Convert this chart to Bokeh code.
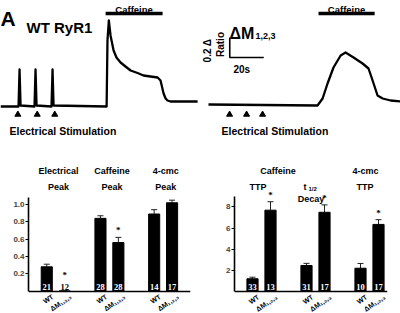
import math
from bokeh.plotting import figure
from bokeh.models import Label, LabelSet, Whisker, TeeHead, ColumnDataSource, FixedTicker, Range1d, NumeralTickFormatter
from bokeh.layouts import column, row
from bokeh.embed import file_html
from bokeh.resources import INLINE

FONT = "Liberation Sans"

# ---------------- Panel A: traces (time in s, delta ratio) ----------------
wt_time = [0, 10.6, 11.2, 11.8, 20.0, 20.6, 21.2, 30.0, 30.6, 31.2, 62.4, 62.9, 63.7, 64.7,
           66.5, 68.2, 70.6, 73.5, 76.5, 80.6, 84.1, 88.2, 92.4, 94.1, 95.9, 97.1, 98.2, 100.0, 115.9]
wt_ratio = [0, 0, 0.37, 0.01, 0, 0.37, 0.01, 0, 0.37, 0.01, 0, 0.66, 0.86, 0.71,
            0.56, 0.49, 0.44, 0.40, 0.36, 0.335, 0.31, 0.30, 0.29, 0.26, 0.13, 0.08, 0.06, 0.05, 0.05]
mut_time = [4.7, 68.8, 71.8, 74.7, 78.2, 82.4, 85.3, 90.0, 95.3, 98.8, 101.2, 104.1, 107.1, 111.8, 117.6]
mut_ratio = [0.02, 0.01, 0.08, 0.23, 0.39, 0.51, 0.54, 0.49, 0.43, 0.38, 0.26, 0.11, 0.08, 0.06, 0.05]
stim_wt = [10.2, 21.6, 31.9]
stim_mut = [17.1, 27.1, 36.5]
caff_wt = [61.8, 95.3]
caff_mut = [69.4, 102.4]
scale_t = 20    # s
scale_r = 0.2   # delta ratio

# ---------------- Panels B and C ----------------
genotypes = ["WT", "ΔM₁,₂,₃"]
B_groups = [["Electrical", "Peak"], ["Caffeine", "Peak"], ["4-cmc", "Peak"]]
B_mean = [0.28, 0.0, 0.84, 0.56, 0.89, 1.02]
B_err = [0.03, 0.0, 0.03, 0.06, 0.05, 0.03]
B_n = [21, 12, 28, 28, 14, 17]
B_sig = [False, True, False, True, False, False]
B_ticks = [0.2, 0.4, 0.6, 0.8, 1.0]

C_mean = [1.2, 7.7, 2.46, 7.5, 2.2, 6.35]
C_err = [0.15, 0.8, 0.2, 0.7, 0.45, 0.45]
C_n = [33, 13, 31, 17, 10, 17]
C_sig = [False, True, False, True, False, True]
C_ticks = [2, 4, 6, 8]


def lab(p, x, y, text, size, align="left", baseline="alphabetic", angle=0, color="black",
        style="bold", xo=0, yo=0):
    p.add_layout(Label(x=x, y=y, text=text, text_font=FONT, text_font_style=style,
                       text_font_size=f"{size}px", text_align=align, text_baseline=baseline,
                       angle=angle, text_color=color, x_offset=xo, y_offset=yo))


def trace_fig(t, r, stim, caff):
    p = figure(width=200, height=140, x_range=Range1d(0, 117.6), y_range=Range1d(-0.34, 1.06),
               x_axis_type=None, y_axis_type=None, output_backend="svg", toolbar_location=None,
               min_border=0)
    p.grid.visible = False
    p.outline_line_color = None
    p.background_fill_color = "white"
    p.border_fill_color = "white"
    p.line(t, r, line_color="black", line_width=2.3, line_join="round")
    p.scatter(stim, [-0.08] * len(stim), marker="triangle", size=6, color="black")
    p.segment(x0=[caff[0]], x1=[caff[1]], y0=[0.93], y1=[0.93], line_color="black", line_width=3.5)
    lab(p, (caff[0] + caff[1]) / 2, 0.975, "Caffeine", 9.5, align="center")
    return p


pA1 = trace_fig(wt_time, wt_ratio, stim_wt, caff_wt)
lab(pA1, 0, 0.885, "A", 21)
lab(pA1, 15.3, 0.79, "WT RyR1", 15)
lab(pA1, 5.3, -0.247, "Electrical Stimulation", 10.5)

pA2 = trace_fig(mut_time, mut_ratio, stim_mut, caff_mut)
lab(pA2, 17.1, 0.73, "ΔM", 16)
lab(pA2, 32.4, 0.71, "1,2,3", 9)
sx, sy = 17.2, 0.49
pA2.line([sx, sx, sx + scale_t], [sy + scale_r, sy, sy], line_color="black", line_width=1.6)
lab(pA2, 4.4, 0.56, "0.2 Δ", 10, align="center", baseline="middle", angle=math.pi / 2)
lab(pA2, 11.8, 0.62, "Ratio", 10, align="center", baseline="middle", angle=math.pi / 2)
lab(pA2, 19.4, 0.37, "20s", 10)
lab(pA2, 12.4, -0.247, "Electrical Stimulation", 10.5)


def bar_fig(means, errs, ns, sigs, xr, yr, ybounds, yticks, fmt, left, right):
    pos = [g * 3 + s for g in range(3) for s in range(2)]
    p = figure(width=200, height=173, x_range=Range1d(*xr), y_range=Range1d(*yr),
               output_backend="svg", toolbar_location=None,
               min_border_left=left, min_border_right=right,
               min_border_top=0, min_border_bottom=0)
    p.grid.visible = False
    p.outline_line_color = None
    src = ColumnDataSource(dict(
        x=pos, top=means,
        upper=[m + e for m, e in zip(means, errs)],
        n=[str(v) for v in ns],
        ncol=["white" if m > 0.05 * ybounds[1] else "black" for m in means],
        ast=["*" if s else "" for s in sigs],
        astoff=[2 if m > 0 else 11 for m in means],
    ))
    p.add_layout(Whisker(base="x", upper="upper", lower="top", source=src, line_color="#222222",
                         line_width=1, lower_head=None,
                         upper_head=TeeHead(size=6, line_color="#222222", line_width=1)))
    p.vbar(x="x", top="top", width=0.62, bottom=0, source=src, fill_color="black", line_color="black")
    p.add_layout(LabelSet(x="x", y=0, text="n", source=src, text_color="ncol", text_font=FONT,
                          text_font_style="bold", text_font_size="8.5px", text_align="center",
                          text_baseline="bottom", y_offset=1))
    p.add_layout(LabelSet(x="x", y="upper", text="ast", source=src, text_color="black", text_font=FONT,
                          text_font_style="bold", text_font_size="9px", text_align="center",
                          text_baseline="bottom", y_offset="astoff"))
    for i, xv in enumerate(pos):
        lab(p, xv, 0, genotypes[i % 2], 7, align="right", baseline="top", angle=0.6, xo=4, yo=-2)
    ya = p.yaxis[0]
    ya.ticker = FixedTicker(ticks=yticks)
    ya.bounds = ybounds
    ya.formatter = NumeralTickFormatter(format=fmt)
    ya.major_tick_in = 0
    ya.major_tick_out = 3
    ya.minor_tick_line_color = None
    ya.axis_line_width = 1.6
    ya.major_tick_line_width = 1.2
    ya.major_label_standoff = 1
    ya.major_label_text_font = FONT
    ya.major_label_text_font_style = "bold"
    ya.major_label_text_font_size = "8px"
    xa = p.xaxis[0]
    xa.fixed_location = 0
    xa.ticker = FixedTicker(ticks=[])
    xa.major_label_standoff = 0
    xa.major_tick_line_color = None
    xa.major_tick_out = 0
    xa.major_tick_in = 0
    xa.minor_tick_line_color = None
    xa.axis_line_width = 1.6
    return p


pB = bar_fig(B_mean, B_err, B_n, B_sig, (-1.02, 8.03), (-0.26, 1.74), (0, 1.08), B_ticks, "0.0", 28, 10)
lab(pB, -2.58, 1.25, "B", 20)
for g, (l1, l2) in enumerate(B_groups):
    lab(pB, g * 3 + 0.65, 1.39, l1, 9, align="center")
    lab(pB, g * 3 + 0.65, 1.20, l2, 9, align="center")
lab(pB, -1.97, 0.555, "Δ Ratio F₄₀₅/F₄₈₅", 11, align="center", baseline="middle", angle=math.pi / 2)

pC = bar_fig(C_mean, C_err, C_n, C_sig, (-1.0, 7.5), (-2.09, 14.3), (0, 9), C_ticks, "0", 34, 13)
lab(pC, -2.17, 10.33, "C", 20)
lab(pC, 1.42, 11.42, "Caffeine", 9, align="center")
lab(pC, 0.31, 9.9, "TTP", 9, align="center")
lab(pC, 2.83, 9.9, "t", 9)
lab(pC, 3.11, 9.72, "1/2", 6)
lab(pC, 3.25, 8.77, "Decay", 9, align="center")
lab(pC, 6.28, 11.42, "4-cmc", 9, align="center")
lab(pC, 6.25, 9.9, "TTP", 9, align="center")
lab(pC, -2.33, 4.55, "Time (s)", 12, align="center", baseline="middle", angle=math.pi / 2)

layout = column(row(pA1, pA2), row(pB, pC))
open("out.html", "w").write(file_html(layout, INLINE, "Figure"))
